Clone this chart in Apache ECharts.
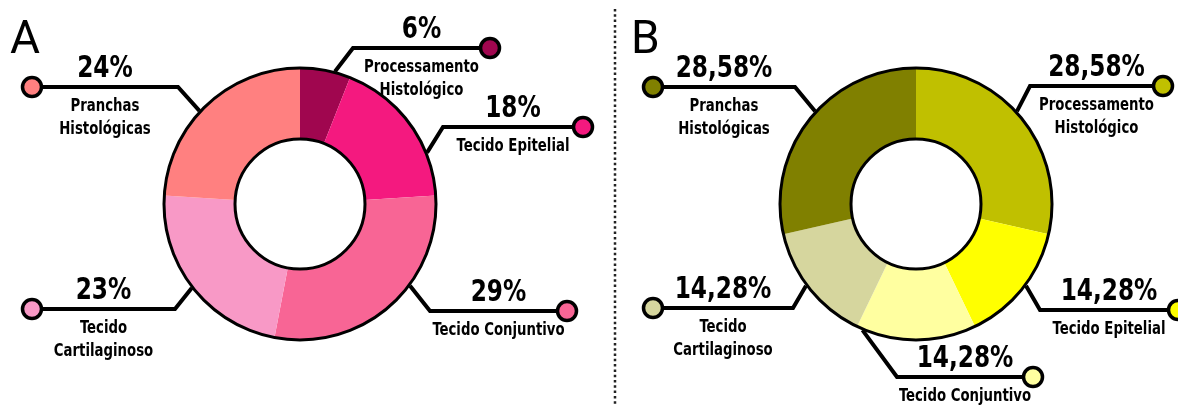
<!DOCTYPE html>
<html>
<head>
<meta charset="utf-8">
<script src="https://cdn.jsdelivr.net/npm/echarts@6/dist/echarts.min.js"></script>
<style>
html, body { margin: 0; padding: 0; background: #fff; }
#main { width: 1178px; height: 405px; }
</style>
</head>
<body>
<div id="main"></div>
<script>
// categorias (mesma ordem nos dois gráficos, sentido horário a partir do topo)
var names = ['Processamento\nHistológico', 'Tecido Epitelial', 'Tecido Conjuntivo', 'Tecido\nCartilaginoso', 'Pranchas\nHistológicas'];
var valuesA = [6, 18, 29, 23, 24];
var valuesB = [28.58, 14.28, 14.28, 14.28, 28.58];
var colorsA = ['#a0064f', '#f4197f', '#f86595', '#f899c6', '#ff8080'];
var colorsB = ['#c0c000', '#ffff00', '#ffffa0', '#d6d69e', '#808000'];

// linhas de chamada: [cotoveloX, linhaY, fimX, desvio do ângulo (graus)]
var legsA = [[353, 48, 490, 4], [443, 127, 583, 14], [430, 311, 567, -12], [175, 309, 32, 0], [178, 87, 32, -4]];
var legsB = [[1030, 86, 1163, -4], [1040, 310, 1178, -2], [897, 377, 1033, 23], [793, 308, 653, 2], [795, 87, 653, 4]];

var FONT = '"DejaVu Sans Condensed", "Liberation Sans Narrow", sans-serif';

function fmt(v) {
    return String(v).replace('.', ',') + '%';
}

function donut(values, colors, cx, cy) {
    return {
        type: 'pie',
        center: [cx, cy],
        radius: [65, 136],
        startAngle: 90,
        clockwise: true,
        silent: true,
        animation: false,
        z: 2,
        label: { show: false },
        labelLine: { show: false },
        itemStyle: { borderWidth: 0 },
        data: values.map(function (v, i) {
            return { name: names[i], value: v, itemStyle: { color: colors[i] } };
        })
    };
}

// contorno preto do anel (só bordas externa e interna)
function ring(cx, cy) {
    return {
        type: 'pie',
        center: [cx, cy],
        radius: [65, 136],
        silent: true,
        animation: false,
        z: 3,
        label: { show: false },
        labelLine: { show: false },
        itemStyle: { color: 'rgba(0,0,0,0)', borderColor: '#000', borderWidth: 3 },
        data: [{ value: 1 }]
    };
}

function leaders(values, colors, legs, cx, cy) {
    var total = values.reduce(function (a, b) { return a + b; }, 0);
    var mids = [];
    var acc = 0;
    values.forEach(function (v) {
        mids.push((acc + v / 2) / total * 2 * Math.PI);
        acc += v;
    });
    return {
        type: 'custom',
        coordinateSystem: 'none',
        silent: true,
        animation: false,
        z: 1,
        data: values,
        renderItem: function (params, api) {
            var i = params.dataIndex;
            var leg = legs[i];
            var a = mids[i] + leg[3] * Math.PI / 180;
            var R = 137;
            var p0 = [cx + R * Math.sin(a), cy - R * Math.cos(a)];
            var mx = (leg[0] + leg[2]) / 2;
            return {
                type: 'group',
                children: [
                    {
                        type: 'polyline',
                        shape: { points: [p0, [leg[0], leg[1]], [leg[2], leg[1]]] },
                        style: { stroke: '#000', lineWidth: 4, fill: null, lineJoin: 'miter' }
                    },
                    {
                        type: 'circle',
                        shape: { cx: leg[2], cy: leg[1], r: 9.5 },
                        style: { fill: colors[i], stroke: '#000', lineWidth: 3.5 }
                    },
                    {
                        type: 'text',
                        x: mx, y: leg[1] - 18, scaleX: 0.86,
                        style: {
                            text: fmt(values[i]), x: 0, y: 0,
                            align: 'center', verticalAlign: 'middle',
                            font: 'bold 30px ' + FONT, fill: '#000'
                        }
                    },
                    {
                        type: 'text',
                        x: mx, y: leg[1] + 8, scaleX: 0.82,
                        style: {
                            text: names[i], x: 0, y: 0,
                            align: 'center', verticalAlign: 'top', lineHeight: 23,
                            font: 'bold 18px ' + FONT, fill: '#000'
                        }
                    }
                ]
            };
        }
    };
}

var myChart = echarts.init(document.getElementById('main'));
var option = {
    backgroundColor: '#fff',
    animation: false,
    title: [
        { text: 'A', left: 10, top: 18, padding: 0, textStyle: { fontSize: 46, fontWeight: 'normal', fontFamily: 'Roboto', color: '#000' } },
        { text: 'B', left: 631, top: 18, padding: 0, textStyle: { fontSize: 46, fontWeight: 'normal', fontFamily: 'Roboto', color: '#000' } }
    ],
    graphic: [
        {
            type: 'line',
            shape: { x1: 615, y1: 9, x2: 615, y2: 405 },
            style: { stroke: '#222', lineWidth: 2.5, lineDash: [2.5, 2.8] }
        }
    ],
    series: [
        leaders(valuesA, colorsA, legsA, 300, 204),
        donut(valuesA, colorsA, 300, 204),
        ring(300, 204),
        leaders(valuesB, colorsB, legsB, 916, 204),
        donut(valuesB, colorsB, 916, 204),
        ring(916, 204)
    ]
};
myChart.setOption(option);
</script>
</body>
</html>
